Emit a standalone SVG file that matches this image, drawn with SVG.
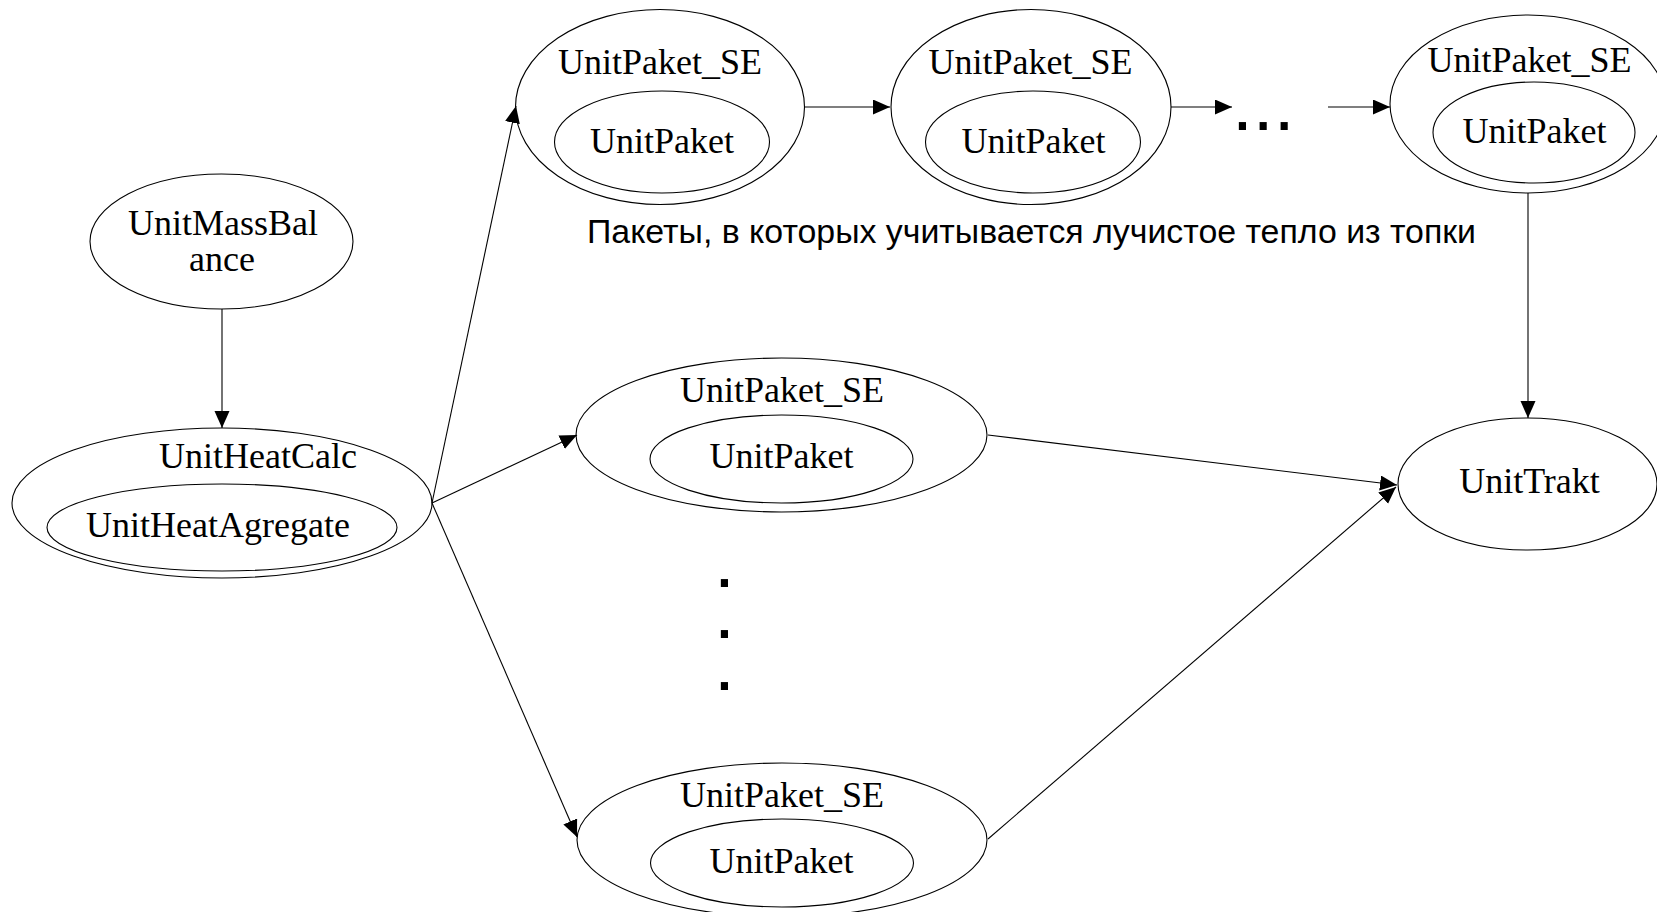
<svg xmlns="http://www.w3.org/2000/svg" width="1657" height="912" viewBox="0 0 1657 912">
<style>
.n{fill:none;stroke:#000;stroke-width:1.1}
.t{font-family:"Liberation Serif","Times New Roman",serif;font-size:36px;fill:#000;text-anchor:middle}
.e{fill:none;stroke:#000;stroke-width:1.1;marker-end:url(#ah)}
.d{font-family:"Liberation Sans",Arial,sans-serif;font-size:75px;fill:#000}
.lbl{font-family:"Liberation Sans",Arial,sans-serif;font-size:33px;fill:#000}
</style>
<defs>
<marker id="ah" markerUnits="userSpaceOnUse" markerWidth="18" markerHeight="16" refX="17" refY="7.5" orient="auto">
<path d="M0,0 L17,7.5 L0,15 z" fill="#000"/>
</marker>
</defs>
<rect width="1657" height="912" fill="#fff"/>
<g id="connectors">
<line class="e" x1="222" y1="309" x2="222" y2="428"/>
<line class="e" x1="432" y1="503" x2="516" y2="106"/>
<line class="e" x1="432" y1="503" x2="577" y2="435"/>
<line class="e" x1="432" y1="503" x2="577" y2="837"/>
<line class="e" x1="805" y1="107" x2="890" y2="107"/>
<line class="e" x1="1171" y1="107" x2="1232" y2="107"/>
<line class="e" x1="1328" y1="107" x2="1390" y2="107"/>
<line class="e" x1="1528" y1="193" x2="1528" y2="418"/>
<line class="e" x1="988" y1="435" x2="1397" y2="485"/>
<line class="e" x1="988" y1="839" x2="1396" y2="487"/>
</g>
<g id="UnitMassBalance">
<ellipse class="n" cx="221.5" cy="241.5" rx="131.5" ry="67.5"/>
<text class="t" y="235"><tspan x="223">UnitMassBal</tspan><tspan x="222" dy="36">ance</tspan></text>
</g>
<g id="UnitHeatCalc">
<ellipse class="n" cx="222" cy="503" rx="210" ry="75"/>
<text class="t" x="258" y="468">UnitHeatCalc</text>
<ellipse class="n" cx="222" cy="527.5" rx="175" ry="43.5"/>
<text class="t" x="218" y="537">UnitHeatAgregate</text>
</g>
<g id="UnitPaket_SE_1">
<ellipse class="n" cx="660" cy="107" rx="144.5" ry="97.5"/>
<text class="t" x="660" y="74">UnitPaket_SE</text>
<ellipse class="n" cx="662" cy="142" rx="107.5" ry="51"/>
<text class="t" x="662" y="153">UnitPaket</text>
</g>
<g id="UnitPaket_SE_2">
<ellipse class="n" cx="1031" cy="107" rx="140" ry="97.5"/>
<text class="t" x="1030.5" y="74">UnitPaket_SE</text>
<ellipse class="n" cx="1033" cy="142" rx="107.5" ry="51"/>
<text class="t" x="1033.5" y="153">UnitPaket</text>
</g>
<g id="dots_h">
<text class="d" x="1232" y="130">...</text>
</g>
<g id="UnitPaket_SE_3">
<ellipse class="n" cx="1528" cy="104" rx="138" ry="89"/>
<text class="t" x="1529.5" y="72">UnitPaket_SE</text>
<ellipse class="n" cx="1534" cy="132.5" rx="101" ry="50.5"/>
<text class="t" x="1534.5" y="143">UnitPaket</text>
</g>
<g id="label">
<text class="lbl" x="587" y="243" textLength="889" lengthAdjust="spacingAndGlyphs">Пакеты, в которых учитывается лучистое тепло из топки</text>
</g>
<g id="UnitPaket_SE_mid">
<ellipse class="n" cx="781.5" cy="435" rx="205.5" ry="77"/>
<text class="t" x="782" y="402">UnitPaket_SE</text>
<ellipse class="n" cx="781.5" cy="459" rx="131.5" ry="44"/>
<text class="t" x="781.5" y="468">UnitPaket</text>
</g>
<g id="dots_v">
<text class="d" y="587"><tspan x="714">.</tspan><tspan x="714" dy="51">.</tspan><tspan x="714" dy="52">.</tspan></text>
</g>
<g id="UnitPaket_SE_bot">
<ellipse class="n" cx="782" cy="840" rx="205" ry="77"/>
<text class="t" x="782" y="807">UnitPaket_SE</text>
<ellipse class="n" cx="782" cy="863" rx="131.5" ry="44"/>
<text class="t" x="781.5" y="873">UnitPaket</text>
</g>
<g id="UnitTrakt">
<ellipse class="n" cx="1527.5" cy="484" rx="129.5" ry="66"/>
<text class="t" x="1529.5" y="493">UnitTrakt</text>
</g>
</svg>
